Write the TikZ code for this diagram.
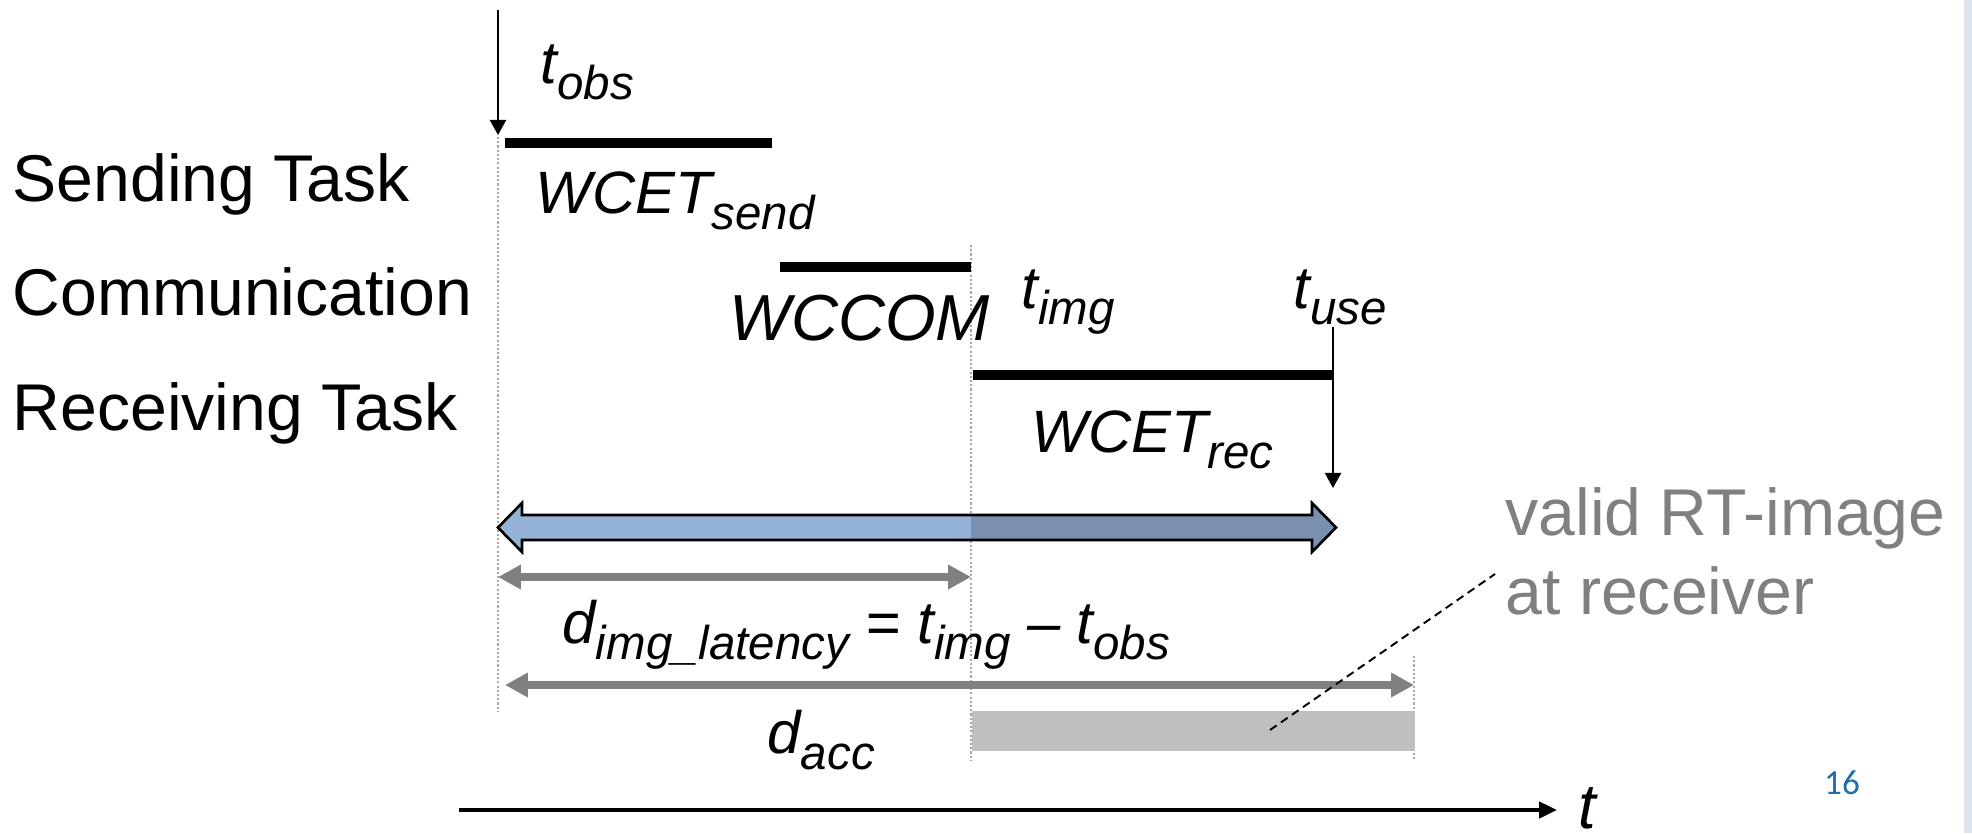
\documentclass[tikz,border=0pt]{standalone}
\usepackage{fontspec}
\setmainfont{Liberation Sans}
\newfontfamily\pagefont{Carlito}
\usetikzlibrary{arrows.meta}
\definecolor{lblue}{HTML}{95B3D7}
\definecolor{dblue}{HTML}{7B8FAE}
\definecolor{gr}{HTML}{808080}
\definecolor{lgr}{HTML}{BFBFBF}
\definecolor{dotgr}{HTML}{A6A6A6}
\definecolor{edgeblue}{HTML}{DCE4EE}
\definecolor{pagenum}{HTML}{1F6EAA}
\newcommand{\msz}{\fontsize{17}{20}\selectfont\itshape}
\newcommand{\sbs}[1]{\raisebox{-0.28em}{\fontsize{13.5}{16}\selectfont #1}}
\begin{document}
\begin{tikzpicture}[x=0.01cm,y=-0.01cm,
  lbl/.style={anchor=base west,inner sep=0pt,font=\fontsize{18.8}{22}\selectfont},
  itl/.style={anchor=base west,inner sep=0pt,font=\msz},
  bar/.style={line width=2.85pt},
  guide/.style={dotgr,line width=0.6pt,dash pattern=on 0.6pt off 0.6pt},
  evt/.style={line width=0.55pt,-{Triangle[length=4.3pt,width=4.6pt]}},
  garr/.style={gr,line width=2pt,{Triangle[length=6.5pt,width=6.6pt]}-{Triangle[length=6.5pt,width=6.6pt]}},
]
\useasboundingbox (0,0) rectangle (1972,833);
\fill[edgeblue] (1964,0) rectangle (1972,833);

% key coordinates
\coordinate (obsTop) at (498,10);
\coordinate (obsTip) at (498,135);
\coordinate (useTop) at (1333,327);
\coordinate (useTip) at (1333,488);

% guides
\draw[guide] (498,137) -- (498,711);
\draw[guide] (971,245) -- (971,761);
\draw[guide] (1414,656) -- (1414,761);

% row labels
\node[lbl] (send) at (12,201) {Sending Task};
\node[lbl] (comm) at (12,315) {Communication};
\node[lbl] (recv) at (12,430) {Receiving Task};

% event arrows
\draw[evt] (obsTop) -- (obsTip);
\draw[evt] (useTop) -- (useTip);

% bars
\coordinate (s1) at (505,143); \coordinate (s2) at (772,143);
\coordinate (c1) at (780,267); \coordinate (c2) at (971,267);
\coordinate (r1) at (973,375); \coordinate (r2) at (1333,375);
\draw[bar] (s1) -- (s2);
\draw[bar] (c1) -- (c2);
\draw[bar] (r1) -- (r2);

% labels
\node[itl] (lobs) at (540,83) {t\sbs{obs}};
\node[itl] (lwsend) at (535,213) {WCET\sbs{send}};
\node[itl,font=\fontsize{18.5}{22}\selectfont\itshape] (lwcom) at (729,340) {WCCOM};
\node[itl] (limg) at (1021,308) {t\sbs{img}};
\node[itl] (luse) at (1293,308) {t\sbs{use}};
\node[itl] (lwrec) at (1031,452) {WCET\sbs{rec}};

% big blue double arrow
\begin{scope}
\path[clip] (498,527.5) -- (522,503) -- (522,515) -- (1312,515) -- (1312,503) -- (1336,527.5) -- (1312,552) -- (1312,540) -- (522,540) -- (522,552) -- cycle;
\fill[lblue] (490,495) rectangle (971,560);
\fill[dblue] (971,495) rectangle (1345,560);
\end{scope}
\draw[line width=0.75pt,line join=miter] (498,527.5) -- (522,503) -- (522,515) -- (1312,515) -- (1312,503) -- (1336,527.5) -- (1312,552) -- (1312,540) -- (522,540) -- (522,552) -- cycle;

% gray measurement arrows
\coordinate (l1a) at (498,577); \coordinate (l1b) at (971,577);
\coordinate (l2a) at (505,685); \coordinate (l2b) at (1414,685);
\draw[garr] (l1a) -- (l1b);
\draw[garr] (l2a) -- (l2b);
\node[itl] (llat) at (562,643) {d\sbs{img\_latency} = t\sbs{img} – t\sbs{obs}};
\node[itl] (lacc) at (767,753) {d\sbs{acc}};

% valid region
\fill[lgr] (972,711) rectangle (1415,751);
\coordinate (dashA) at (1270,730);
\coordinate (dashB) at (1495,574);
\draw[line width=0.55pt,dash pattern=on 2.3pt off 1.5pt] (dashA) -- (dashB);
\node[lbl,text=gr] (valid1) at (1505,535) {valid RT-image};
\node[lbl,text=gr] (valid2) at (1505,614) {at receiver};

% time axis
\coordinate (ax1) at (459,810);
\coordinate (ax2) at (1557,810);
\draw[line width=1.1pt,-{Triangle[length=5.1pt,width=4.6pt]}] (ax1) -- (ax2);
\node[itl,font=\fontsize{18}{22}\selectfont\itshape] (laxis) at (1578,828) {t};

\node[font=\pagefont\fontsize{10}{12}\selectfont,text=pagenum,inner sep=0pt] (pg) at (1842,783) {16};
\end{tikzpicture}
\end{document}
